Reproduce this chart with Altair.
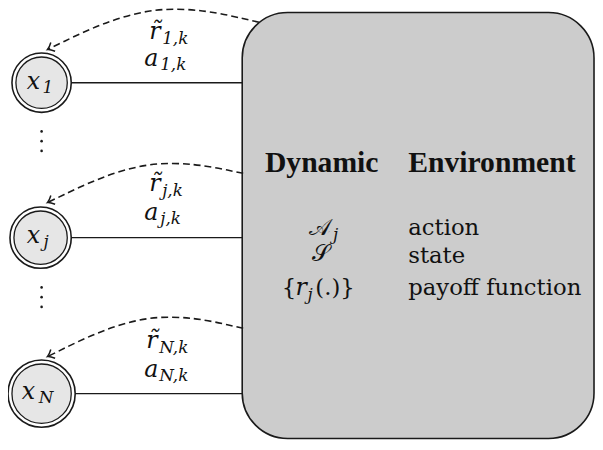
import math
import altair as alt
import pandas as pd

FONT = "DejaVu Serif"
FONT_BF = "Liberation Serif"
INK = "#1a1a1a"

# ---------- canvas: coordinates are read in the reference picture's pixel frame ----------
X_DOMAIN = [8, 602]
Y_DOMAIN = [3, 443]
W, H = 594, 434

# ---------- agents (double-circled nodes) ----------
node_ids = ["1", "j", "N"]
node_cx = [42, 41, 42]
node_cy = [77, 236, 396]
node_r = [30, 31, 34]

# ---------- environment box ----------
box_left, box_right = 245, 601
box_top, box_bottom = 5, 442
box_corner = 46

# ---------- dashed feedback arcs: start, control, arrow tip ----------
arc_start = [(262, 15), (246, 170), (246, 329)]
arc_ctrl = [(155, -10), (150, 150), (150, 307)]
arc_tip = [(48, 43), (48, 200), (48, 358)]

# ---------- vertical ellipsis dots ----------
dots_x = [42, 42, 42, 42, 42, 42]
dots_y = [127, 137, 147, 287, 297, 307]

# ---------- text pieces: text, left x, baseline y, font size, kind ----------
texts = [
    # node labels
    ("x", 27, 83, 24, "it"), ("1", 43, 88, 17, "it"),
    ("x", 27, 241, 24, "it"), ("j", 44, 246, 17, "it"),
    ("x", 22, 401, 24, "it"), ("N", 39, 406, 17, "it"),
    # link labels
    ("r\u0303", 151, 32, 24, "it"), ("1,k", 164, 37, 17, "it"),
    ("a", 146, 60, 24, "it"), ("1,k", 162, 64, 17, "it"),
    ("r\u0303", 151, 188, 24, "it"), ("j,k", 164, 193, 17, "it"),
    ("a", 146, 218, 24, "it"), ("j,k", 162, 222, 17, "it"),
    ("r\u0303", 148, 349, 24, "it"), ("N,k", 161, 354, 17, "it"),
    ("a", 146, 379, 24, "it"), ("N,k", 161, 383, 17, "it"),
    # environment box
    ("Dynamic", 268, 169, 30, "bf"), ("Environment", 413, 169, 30, "bf"),
    ("\U0001D49C", 313, 233, 23, "rm"), ("j", 337, 238, 17, "it"),
    ("\U0001D4AE", 316, 260, 23, "rm"),
    ("{", 285, 295, 23, "rm"), ("r", 299, 295, 24, "it"),
    ("j", 311, 300, 17, "it"), ("(.)}", 319, 295, 23, "rm"),
    ("action", 413, 233, 23, "rm"),
    ("state", 413, 262, 23, "rm"),
    ("payoff function", 413, 295, 23, "rm"),
]

# ---------- tables ----------
xs = alt.Scale(domain=X_DOMAIN, nice=False, zero=False)
ys = alt.Scale(domain=Y_DOMAIN, nice=False, zero=False, reverse=True)

nodes = pd.DataFrame({
    "id": node_ids, "cx": node_cx, "cy": node_cy, "r": node_r,
})
nodes["outer"] = (2 * nodes["r"]) ** 2
nodes["inner"] = (2 * (nodes["r"] - 4)) ** 2
nodes["x0"] = nodes["cx"] + nodes["r"]
nodes["x1"] = box_left

box = pd.DataFrame({"x": [box_left], "x2": [box_right], "y": [box_top], "y2": [box_bottom]})

arc_rows = []
arrow_rows = []
for i, (p0, p1, p2) in enumerate(zip(arc_start, arc_ctrl, arc_tip)):
    for k, p in enumerate((p0, p1, p2)):
        arc_rows.append({"arc": i, "order": k, "x": p[0], "y": p[1]})
    ang = math.degrees(math.atan2(p2[1] - p1[1], p2[0] - p1[0])) % 360
    arrow_rows.append({"x": p2[0], "y": p2[1], "angle": ang})
arcs = pd.DataFrame(arc_rows)
arrows = pd.DataFrame(arrow_rows)

dots = pd.DataFrame({"x": dots_x, "y": dots_y})
tx = pd.DataFrame(texts, columns=["text", "x", "y", "size", "kind"])

X = lambda f: alt.X(f, type="quantitative", scale=xs, axis=None)
Y = lambda f: alt.Y(f, type="quantitative", scale=ys, axis=None)

links = alt.Chart(nodes).mark_rule(color=INK, strokeWidth=1.4).encode(
    x=X("x0"), x2="x1:Q", y=Y("cy"))

env = alt.Chart(box).mark_rect(
    cornerRadius=box_corner, fill="#cccccc", stroke=INK, strokeWidth=1.6
).encode(x=X("x"), x2="x2:Q", y=Y("y"), y2="y2:Q")

arc_lines = alt.Chart(arcs).mark_line(
    interpolate="basis", color=INK, strokeWidth=1.6, strokeDash=[7, 4]
).encode(x=X("x"), y=Y("y"), detail="arc:N", order="order:Q")

head_path = "M-1,-0.8 Q-0.4,-0.15 0,0 Q-0.4,0.15 -1,0.8"
heads = alt.Chart(arrows).mark_point(
    shape=head_path, filled=False, stroke=INK, strokeWidth=1.5, size=150, opacity=1
).encode(x=X("x"), y=Y("y"), angle=alt.Angle("angle:Q", scale=None))

outer = alt.Chart(nodes).mark_point(
    shape="circle", filled=True, fill="white", stroke=INK, strokeWidth=1.6, opacity=1
).encode(x=X("cx"), y=Y("cy"), size=alt.Size("outer:Q", scale=None, legend=None))

inner = alt.Chart(nodes).mark_point(
    shape="circle", filled=True, fill="#e6e6e6", stroke=INK, strokeWidth=1.3, opacity=1
).encode(x=X("cx"), y=Y("cy"), size=alt.Size("inner:Q", scale=None, legend=None))

ell = alt.Chart(dots).mark_circle(size=7, color=INK, opacity=1).encode(x=X("x"), y=Y("y"))


def text_layer(kind, font, style, weight):
    return alt.Chart(tx).transform_filter(alt.datum.kind == kind).mark_text(
        align="left", baseline="alphabetic", font=font, fontStyle=style,
        fontWeight=weight, color="#111111"
    ).encode(x=X("x"), y=Y("y"), text="text:N",
             size=alt.Size("size:Q", scale=None, legend=None))


chart = alt.layer(
    links, env, arc_lines, heads, outer, inner, ell,
    text_layer("it", FONT, "italic", "normal"),
    text_layer("rm", FONT, "normal", "normal"),
    text_layer("bf", FONT_BF, "normal", "bold"),
).properties(width=W, height=H, padding=0, autosize="none").configure_view(stroke=None)

chart.save("out.html", embed_options={"renderer": "svg", "actions": False})
